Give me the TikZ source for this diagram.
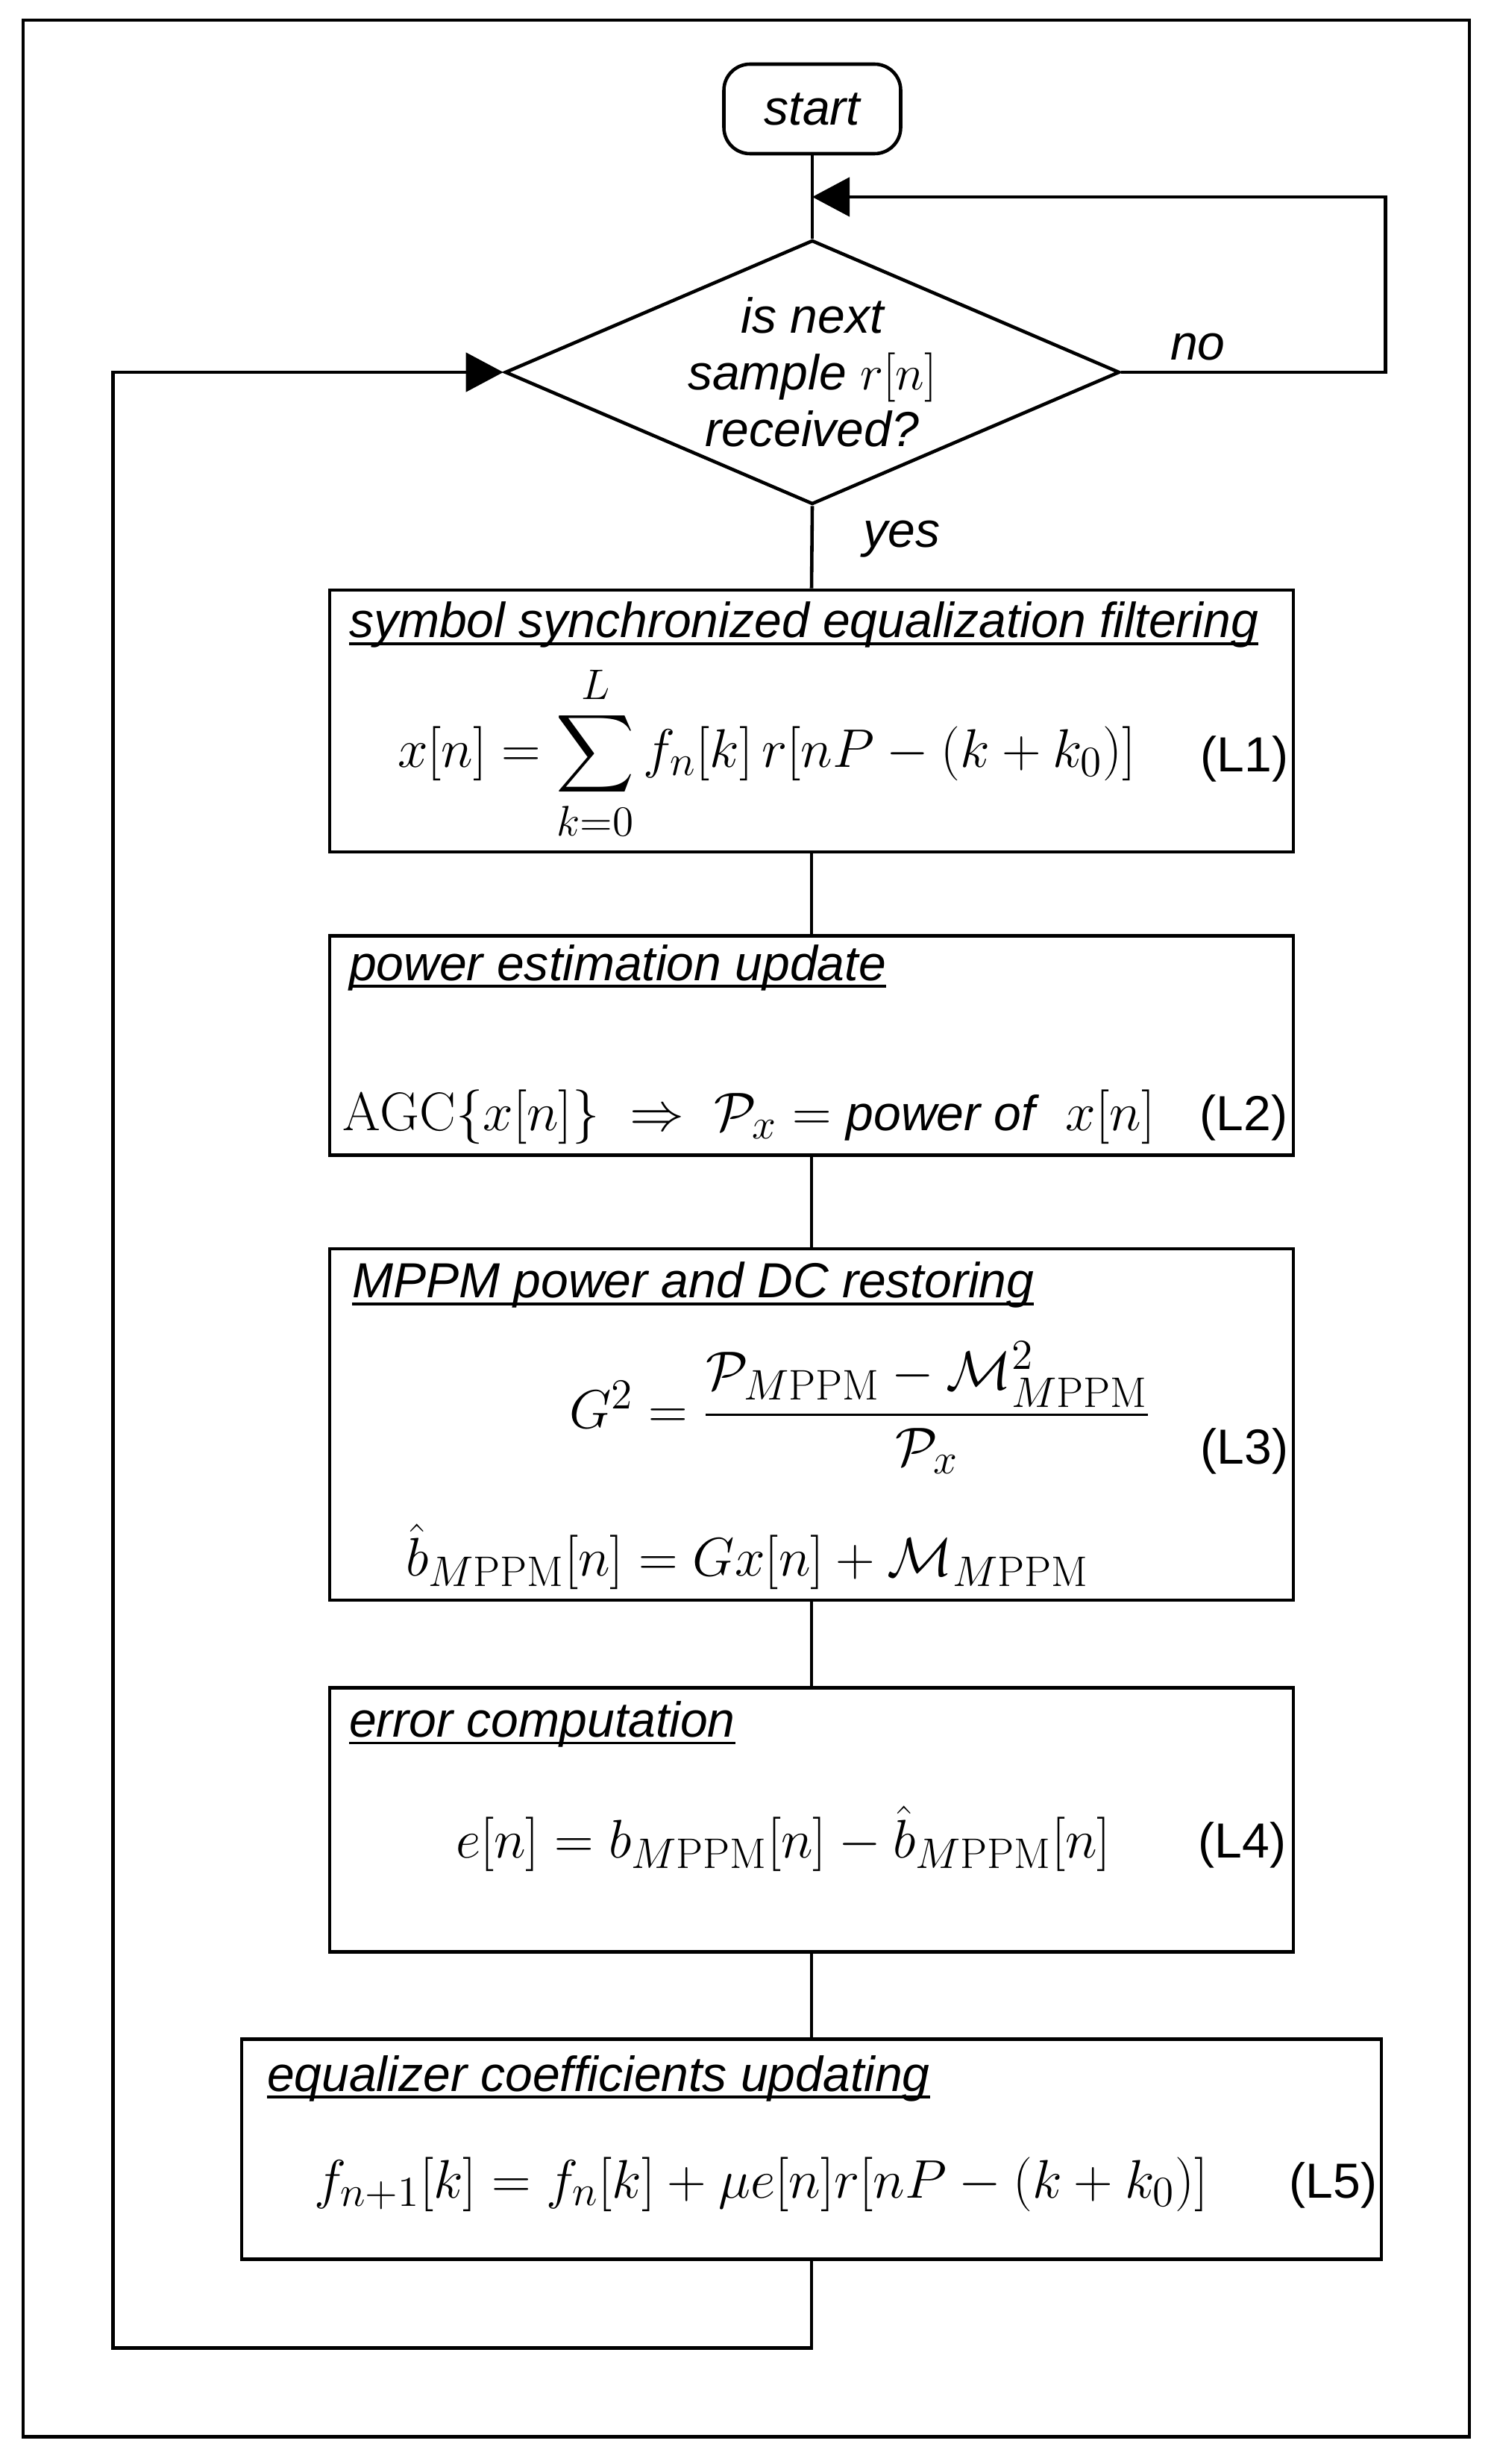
\documentclass[tikz,border=0pt]{standalone}
\usepackage{fix-cm}
\usepackage{amsmath}
\usepackage{fontspec}
\newfontfamily\chartfont{Liberation Sans}
\usetikzlibrary{shapes.geometric, arrows.meta, positioning, calc}

\DeclareMathSizes{20.74}{20.74}{16.3}{12}
\newsavebox{\titlebox}
\newcommand{\boxtitle}[1]{\sbox{\titlebox}{#1}\rlap{\rule[-2.85pt]{\wd\titlebox}{1.1pt}}\usebox{\titlebox}}

\begin{document}
\begin{tikzpicture}[
		line width=1.3pt,
		outerframe/.style={draw, line width=1.4pt},
		startbox/.style={rectangle, rounded corners=0.35cm, draw, minimum width=2.37cm, minimum height=1.2cm,
			inner sep=0pt, font=\chartfont\itshape\fontsize{18.8}{21.6}\selectfont},
		decision/.style={diamond, aspect=2.33, draw, minimum width=8.24cm, minimum height=3.54cm, inner sep=0pt,
			align=center, font=\chartfont\itshape\fontsize{18.8}{21.6}\selectfont},
		block/.style={rectangle, draw, minimum width=12.92cm, inner sep=0pt},
		boxhead/.style={anchor=base west, inner sep=0pt, font=\chartfont\itshape\fontsize{18.8}{21.6}\selectfont},
		eqn/.style={anchor=base west, inner sep=0pt, font=\fontsize{20.74}{25}\selectfont},
		eqtag/.style={anchor=base east, inner sep=0pt, font=\chartfont\fontsize{18.8}{21.6}\selectfont},
		answer/.style={inner sep=2pt, font=\chartfont\itshape\fontsize{18.8}{21.6}\selectfont},
		arrow/.style={-{Triangle[length=0.5cm, width=0.52cm]}},
		]

		\useasboundingbox (0,0) rectangle (20.06,-33.03);
		\draw[outerframe] (0.31,-0.27) rectangle (19.70,-32.66);

		% Blocks
		\node[startbox] (start) at (10.89,-1.46) {start};
		\node[decision] (ask) at (10.89,-4.99) {is next\\sample $r[n]$\\received?};
		\node[block, minimum height=3.51cm] (filt) at (10.88,-9.665) {};
		\node[block, minimum height=2.94cm, below=1.08cm of filt] (power) {};
		\node[block, minimum height=4.71cm, below=1.21cm of power] (dc) {};
		\node[block, minimum height=3.54cm, below=1.13cm of dc] (err) {};
		\node[block, minimum width=15.28cm, minimum height=2.95cm, below=1.12cm of err] (coef) {};

		% Box contents
		\node[boxhead] (filthead) at ($(filt.north west)+(0.26,-0.66)$) {\boxtitle{symbol synchronized equalization filtering}};
		\node[eqn] (filteq) at ($(filt.north west)+(0.91,-2.40)$) {$\displaystyle x[n]=\sum_{k=0}^{L} f_n[k]\,r[nP-(k+k_0)]$};
		\node[eqtag] (filttag) at ($(filt.north east)+(-0.07,-2.46)$) {(L1)};

		\node[boxhead] (powerhead) at ($(power.north west)+(0.26,-0.62)$) {\boxtitle{power estimation update}};
		\node[eqn] (powereq) at ($(power.north west)+(0.17,-2.63)$) {$\mathrm{AGC}\{x[n]\}\;\Rightarrow\;\mathcal{P}_x=\text{\chartfont\itshape\fontsize{18.8}{21.6}\selectfont power of}\;\;x[n]$};
		\node[eqtag] (powertag) at ($(power.north east)+(-0.08,-2.63)$) {(L2)};

		\node[boxhead] (dchead) at ($(dc.north west)+(0.30,-0.68)$) {\boxtitle{MPPM power and DC restoring}};
		\node[eqn] (gaineq) at ($(dc.north west)+(3.21,-2.43)$) {$G^2=\dfrac{\mathcal{P}_{M\mathrm{PPM}}-\mathcal{M}^2_{M\mathrm{PPM}}}{\mathcal{P}_x}$};
		\node[eqn] (dceq) at ($(dc.north west)+(1.02,-4.41)$) {$\hat{b}_{M\mathrm{PPM}}[n]=Gx[n]+\mathcal{M}_{M\mathrm{PPM}}$};
		\node[eqtag] (dctag) at ($(dc.north east)+(-0.07,-2.91)$) {(L3)};

		\node[boxhead] (errhead) at ($(err.north west)+(0.26,-0.68)$) {\boxtitle{error computation}};
		\node[eqn] (erreq) at ($(err.north west)+(1.69,-2.30)$) {$e[n]=b_{M\mathrm{PPM}}[n]-\hat{b}_{M\mathrm{PPM}}[n]$};
		\node[eqtag] (errtag) at ($(err.north east)+(-0.10,-2.30)$) {(L4)};

		\node[boxhead] (coefhead) at ($(coef.north west)+(0.34,-0.72)$) {\boxtitle{equalizer coefficients updating}};
		\node[eqn] (coefeq) at ($(coef.north west)+(0.97,-2.15)$) {$f_{n+1}[k]=f_n[k]+\mu e[n]r[nP-(k+k_0)]$};
		\node[eqtag] (coeftag) at ($(coef.north east)+(-0.06,-2.15)$) {(L5)};

		% Arrows
		\coordinate (loopin) at ($(start.south)!0.5!(ask.north)$);
		\draw (start) -- (ask);
		\draw[arrow] (ask.east) -- node[above=2pt, pos=0.29, answer] {no} ++(3.54,0) |- (loopin);
		\draw (ask.south) -- node[right=0.6cm, pos=0.4, answer] {yes} (filt.north);
		\draw (filt) -- (power);
		\draw (power) -- (dc);
		\draw (dc) -- (err);
		\draw (err) -- (coef);
		\draw[arrow] (coef.south) -- ++(0,-1.17) -| ([xshift=-5.23cm]ask.west) -- (ask.west);
	\end{tikzpicture}
\end{document}
